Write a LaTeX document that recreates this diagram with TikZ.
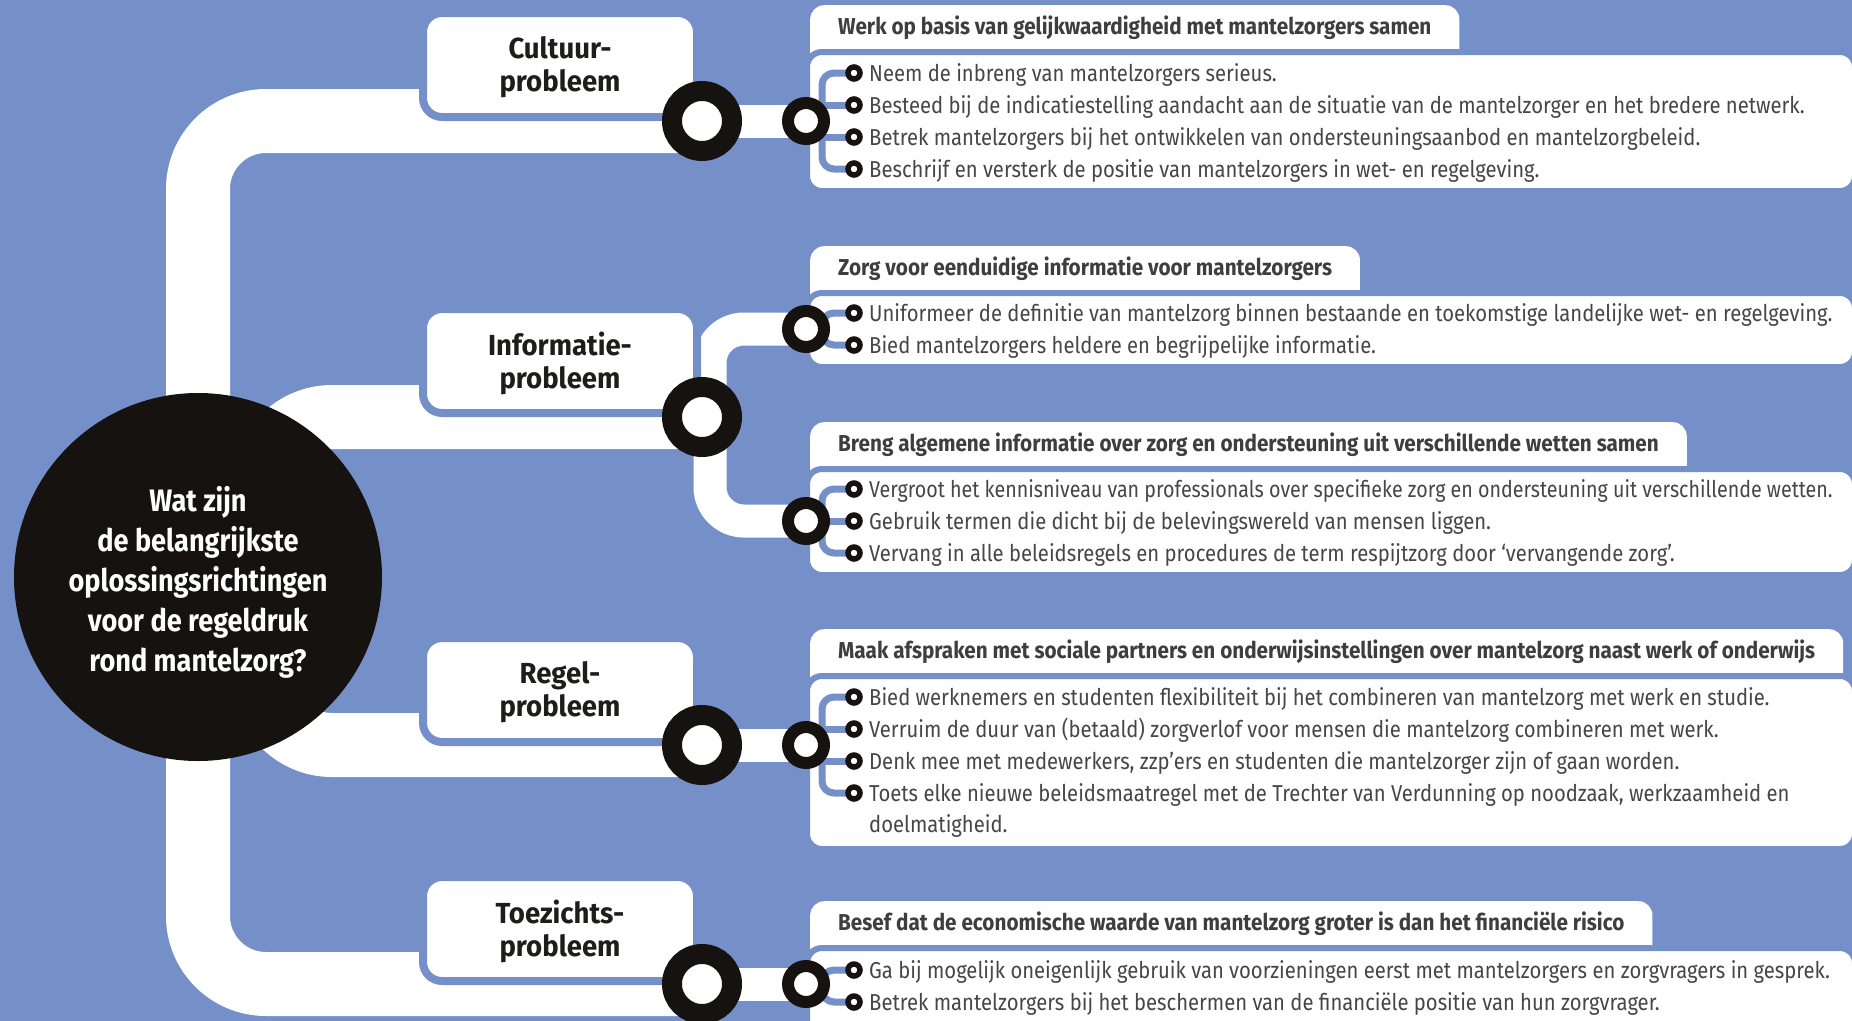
\documentclass[tikz,border=0pt]{standalone}
\usepackage{fontspec}
\setmainfont{Fira Sans}[FakeStretch=0.88]
\newfontfamily\tightfont{Fira Sans}[FakeStretch=0.855]
\newfontfamily\headfont{Fira Sans}[FakeStretch=0.9]
\newfontfamily\labfont{Fira Sans}[FakeStretch=0.95]
\newfontfamily\ctrfont{Fira Sans}[FakeStretch=0.875]
\definecolor{bgblue}{RGB}{117,144,201}
\definecolor{ink}{RGB}{22,18,15}
\definecolor{textc}{RGB}{70,70,70}
\definecolor{headc}{RGB}{62,62,62}
\definecolor{labelc}{RGB}{29,29,27}
\pgfdeclarelayer{back}
\pgfdeclarelayer{bands}
\pgfdeclarelayer{mid}
\pgfdeclarelayer{conn}
\pgfsetlayers{back,bands,mid,conn,main}
\tikzset{
  band/.style={draw=white, line width=64pt, rounded corners=68pt},
  nband/.style={draw=white, line width=33pt, rounded corners=34pt},
  lbox/.style={draw=bgblue, line width=8pt, fill=white, rounded corners=19pt,
    minimum width=274pt, minimum height=104pt, inner sep=0pt},
  ltext/.style={align=center, inner sep=0pt, text=labelc,
    font=\labfont\bfseries\fontsize{29}{33}\selectfont},
  tabbox/.style={fill=white, rounded corners=14pt, anchor=north west,
    inner xsep=28pt, inner ysep=0pt, text height=29pt, text depth=50pt,
    text=headc, font=\headfont\bfseries\fontsize{23}{26}\selectfont},
  panel/.style={draw=bgblue, line width=6pt, fill=white, rounded corners=15pt},
  conn/.style={draw=bgblue, line width=7pt, rounded corners=12pt},
  bul/.style={circle, draw=ink, line width=5.5pt, fill=white, minimum size=12pt, inner sep=0pt},
  bigc/.style={circle, draw=ink, line width=20pt, fill=white, minimum size=60pt, inner sep=0pt},
  smallc/.style={circle, draw=ink, line width=12pt, fill=white, minimum size=36pt, inner sep=0pt},
  itm/.style={anchor=base west, inner sep=0pt, text=textc, font=\fontsize{23}{32}\selectfont},
}
\begin{document}
\begin{tikzpicture}[x=1pt,y=-1pt]
\path[use as bounding box] (0,0) rectangle (1852,1020);
\begin{pgfonlayer}{back}
  \fill[bgblue] (-10,-10) rectangle (1870,1040);
\end{pgfonlayer}

% ---------- main layer: circles, bullets, texts ----------
\node[circle, fill=ink, minimum size=368pt, inner sep=0pt] (q) at (198,577) {};
\node[align=center, text=white, inner sep=0pt,
  font=\ctrfont\bfseries\fontsize{31}{40}\selectfont] (qt) at (198,582)
  {Wat zijn\\de belangrijkste\\oplossingsrichtingen\\voor de regeldruk\\rond mantelzorg?};
\coordinate (qa) at (264,577);

\node[bigc] (c1) at (702,121) {};
\node[bigc] (c2) at (702,417) {};
\node[bigc] (c3) at (702,745) {};
\node[bigc] (c4) at (702,984) {};
\coordinate (j2) at (710,417);

\node[smallc] (s1) at (806,121) {};
\node[smallc] (s2) at (806,329) {};
\node[smallc] (s3) at (806,521) {};
\node[smallc] (s4) at (806,745) {};
\node[smallc] (s5) at (806,984) {};

\coordinate (p1) at (822,121);
\coordinate (p2) at (822,329);
\coordinate (p3) at (822,521);
\coordinate (p4) at (822,745);
\coordinate (p5) at (822,984);

% bullets
\node[bul] (b11) at (854,73) {};
\node[bul] (b12) at (854,105) {};
\node[bul] (b13) at (854,137) {};
\node[bul] (b14) at (854,169) {};
\node[bul] (b21) at (854,313) {};
\node[bul] (b22) at (854,345) {};
\node[bul] (b31) at (854,489) {};
\node[bul] (b32) at (854,521) {};
\node[bul] (b33) at (854,553) {};
\node[bul] (b41) at (854,697) {};
\node[bul] (b42) at (854,729) {};
\node[bul] (b43) at (854,761) {};
\node[bul] (b44) at (854,793) {};
\node[bul] (b51) at (854,970) {};
\node[bul] (b52) at (854,1002) {};

% bullet texts
\node[itm] (x11) at (869,81.5) {Neem de inbreng van mantelzorgers serieus.};
\node[itm] (x12) at (869,113.5) {Besteed bij de indicatiestelling aandacht aan de situatie van de mantelzorger en het bredere netwerk.};
\node[itm] (x13) at (869,145.5) {Betrek mantelzorgers bij het ontwikkelen van ondersteuningsaanbod en mantelzorgbeleid.};
\node[itm] (x14) at (869,177.5) {Beschrijf en versterk de positie van mantelzorgers in wet- en regelgeving.};
\node[itm] (x21) at (869,321.5) {Uniformeer de definitie van mantelzorg binnen bestaande en toekomstige landelijke wet- en regelgeving.};
\node[itm] (x22) at (869,353.5) {Bied mantelzorgers heldere en begrijpelijke informatie.};
\node[itm, font=\tightfont\fontsize{23}{32}\selectfont] (x31) at (869,497.5) {Vergroot het kennisniveau van professionals over specifieke zorg en ondersteuning uit verschillende wetten.};
\node[itm] (x32) at (869,529.5) {Gebruik termen die dicht bij de belevingswereld van mensen liggen.};
\node[itm] (x33) at (869,561.5) {Vervang in alle beleidsregels en procedures de term respijtzorg door ‘vervangende zorg’.};
\node[itm] (x41) at (869,705.5) {Bied werknemers en studenten flexibiliteit bij het combineren van mantelzorg met werk en studie.};
\node[itm] (x42) at (869,737.5) {Verruim de duur van (betaald) zorgverlof voor mensen die mantelzorg combineren met werk.};
\node[itm] (x43) at (869,769.5) {Denk mee met medewerkers, zzp’ers en studenten die mantelzorger zijn of gaan worden.};
\node[itm] (x44) at (869,801.5) {Toets elke nieuwe beleidsmaatregel met de Trechter van Verdunning op noodzaak, werkzaamheid en};
\node[itm] (x45) at (869,832.5) {doelmatigheid.};
\node[itm] (x51) at (869,978.5) {Ga bij mogelijk oneigenlijk gebruik van voorzieningen eerst met mantelzorgers en zorgvragers in gesprek.};
\node[itm] (x52) at (869,1010.5) {Betrek mantelzorgers bij het beschermen van de financiële positie van hun zorgvrager.};

% ---------- white bands ----------
\begin{pgfonlayer}{bands}
  \draw[band] (q.center) |- (c1.center);
  \draw[band] (qa) |- (c2.center);
  \draw[band] (qa) |- (c3.center);
  \draw[band] (q.center) |- (c4.center);
  \draw[nband] (c1.center) -- (s1.center);
  \draw[nband] (c2.center) -- (j2);
  \draw[nband] (s2.center) -| (j2) |- (s3.center);
  \draw[nband] (c3.center) -- (s4.center);
  \draw[nband] (c4.center) -- (s5.center);
\end{pgfonlayer}

% ---------- boxes ----------
\begin{pgfonlayer}{mid}
  \node[lbox] (k1) at (560,65) {};
  \node[lbox] (k2) at (560,361) {};
  \node[lbox] (k3) at (560,690) {};
  \node[lbox] (k4) at (560,929) {};
  \node[ltext] (k1t) at (560,67.5) {Cultuur-\\probleem};
  \node[ltext] (k2t) at (560,363.5) {Informatie-\\probleem};
  \node[ltext] (k3t) at (560,692.5) {Regel-\\probleem};
  \node[ltext] (k4t) at (560,931.5) {Toezichts-\\probleem};

  \node[tabbox] (t1) at (810,5) {Werk op basis van gelijkwaardigheid met mantelzorgers samen};
  \node[tabbox] (t2) at (810,246) {Zorg voor eenduidige informatie voor mantelzorgers};
  \node[tabbox] (t3) at (810,422) {Breng algemene informatie over zorg en ondersteuning uit verschillende wetten samen};
  \node[tabbox] (t4) at (810,629) {Maak afspraken met sociale partners en onderwijsinstellingen over mantelzorg naast werk of onderwijs};
  \node[tabbox] (t5) at (810,901) {Besef dat de economische waarde van mantelzorg groter is dan het financiële risico};

  \path[panel] (807,52) rectangle (1855,191);
  \path[panel] (807,293) rectangle (1855,367);
  \path[panel] (807,469) rectangle (1855,575);
  \path[panel] (807,676) rectangle (1855,849);
  \path[panel] (807,948) rectangle (1855,1045);
\end{pgfonlayer}

% ---------- connectors ----------
\begin{pgfonlayer}{conn}
  \draw[conn] (b11.center) -| (p1) |- (b14.center);
  \draw[conn] (b12.center) -- (b12.center -| p1);
  \draw[conn] (b13.center) -- (b13.center -| p1);
  \draw[conn] (b21.center) -| (p2) |- (b22.center);
  \draw[conn] (b31.center) -| (p3) |- (b33.center);
  \draw[conn] (b32.center) -- (s3.center);
  \draw[conn] (b41.center) -| (p4) |- (b44.center);
  \draw[conn] (b42.center) -- (b42.center -| p4);
  \draw[conn] (b43.center) -- (b43.center -| p4);
  \draw[conn] (b51.center) -| (p5) |- (b52.center);
\end{pgfonlayer}
\end{tikzpicture}
\end{document}
